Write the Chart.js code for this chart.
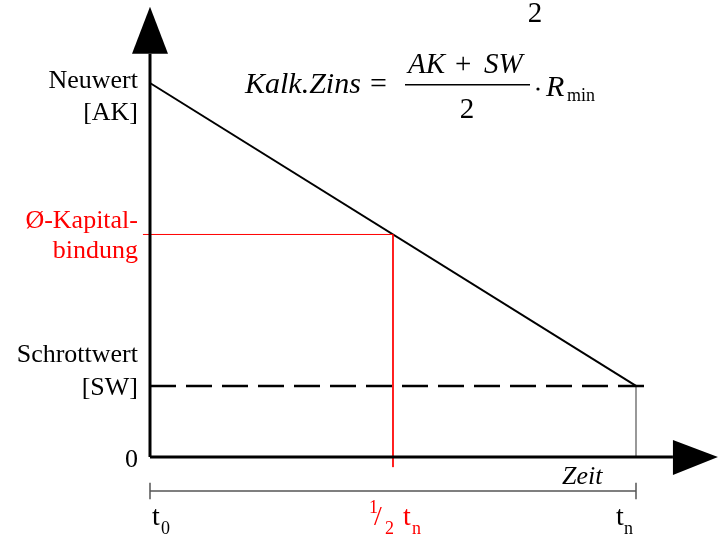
<!DOCTYPE html>
<html>
<head>
<meta charset="utf-8">
<script src="https://cdn.jsdelivr.net/npm/chart.js@4.4.1/dist/chart.umd.min.js"></script>
<style>
  body { margin: 0; background: #fff; }
  canvas { display: block; }
  #fontwarm { position: absolute; left: 0; top: 0; font-family: "Liberation Serif"; font-size: 10px; color: transparent; }
</style>
</head>
<body>
<div id="fontwarm">Neuwert <i>Zeit</i></div>
<canvas id="chart" width="720" height="536"></canvas>
<script>
// time axis: t0 .. tn (normalised to 0..1)
const timePoints = [0, 0.5, 1];
const timeLabels = ['t0', '1/2 tn', 'tn'];

// value axis: Neuwert, average capital, Schrottwert, zero
const valuePoints = [100, 59.5, 19, 0];
const valueLabels = [['Neuwert', '[AK]'], ['Ø-Kapital-', 'bindung'], ['Schrottwert', '[SW]'], ['0']];
const valueColors = ['#000', '#ff0000', '#000', '#000'];

// book value from t0 to tn
const bookValue = [100, 19];

// axis extents (data units)
const xAxisEnd = 1.076;
const yAxisEnd = 107.8;
const dashEnd = 1.029;
const measureY = -9.1;

const serif = '"Liberation Serif"';

function seg(x1, y1, x2, y2, color, width, dash) {
    return {
        data: [{x: x1, y: y1}, {x: x2, y: y2}],
        showLine: true,
        borderColor: color,
        borderWidth: width,
        borderDash: dash || [],
        pointRadius: 0,
        borderCapStyle: 'butt'
    };
}

const diagramPlugin = {
    id: 'diagram',
    afterDatasetsDraw(chart) {
        const ctx = chart.ctx;
        const xs = chart.scales.x, ys = chart.scales.y;
        const px = v => xs.getPixelForValue(v);
        const py = v => ys.getPixelForValue(v);
        ctx.save();

        // arrow heads
        ctx.fillStyle = '#000';
        const ax = px(0), ay = py(yAxisEnd);
        ctx.beginPath();
        ctx.moveTo(ax - 18, ay);
        ctx.lineTo(ax, ay - 47);
        ctx.lineTo(ax + 18, ay);
        ctx.closePath();
        ctx.fill();
        const bx = px(xAxisEnd), by = py(0);
        ctx.beginPath();
        ctx.moveTo(bx, by - 17);
        ctx.lineTo(bx + 45, by);
        ctx.lineTo(bx, by + 18);
        ctx.closePath();
        ctx.fill();

        // value labels (right aligned left of the axis)
        const offsets = [[5, 37], [-6, 24], [-24, 9], [10]];
        ctx.textAlign = 'right';
        ctx.textBaseline = 'alphabetic';
        ctx.font = '26px ' + serif;
        valueLabels.forEach((lines, i) => {
            ctx.fillStyle = valueColors[i];
            lines.forEach((txt, j) => {
                ctx.fillText(txt, px(0) - 12, py(valuePoints[i]) + offsets[i][j]);
            });
        });

        // time labels with subscripts
        ctx.textAlign = 'left';
        const tBase = 525;
        ctx.fillStyle = '#000';
        ctx.font = '28px ' + serif;
        ctx.fillText('t', px(timePoints[0]) + 2, tBase);
        ctx.font = '18px ' + serif;
        ctx.fillText('0', px(timePoints[0]) + 11, tBase + 9);

        ctx.font = '28px ' + serif;
        ctx.fillText('t', px(timePoints[2]) - 20, tBase);
        ctx.font = '18px ' + serif;
        ctx.fillText('n', px(timePoints[2]) - 12, tBase + 9);

        ctx.fillStyle = '#ff0000';
        const hx = px(timePoints[1]);
        ctx.font = '18px ' + serif;
        ctx.fillText('1', hx - 24, tBase - 12);
        ctx.font = '28px ' + serif;
        ctx.fillText('/', hx - 19, tBase);
        ctx.font = '18px ' + serif;
        ctx.fillText('2', hx - 8, tBase + 9);
        ctx.font = '28px ' + serif;
        ctx.fillText('t', hx + 10, tBase);
        ctx.font = '18px ' + serif;
        ctx.fillText('n', hx + 19, tBase + 9);

        // axis title
        ctx.fillStyle = '#000';
        ctx.font = 'italic 26px ' + serif;
        ctx.fillText('Zeit', 562, 484);

        // formula
        const fb = 93;
        ctx.font = 'italic 30px ' + serif;
        ctx.fillText('Kalk.Zins', 245, fb);
        ctx.font = '30px ' + serif;
        ctx.fillText('=', 370, fb);
        ctx.font = 'italic 29px ' + serif;
        ctx.fillText('AK', 408, 73);
        ctx.fillText('SW', 484, 73);
        ctx.font = '29px ' + serif;
        ctx.fillText('+', 455, 73);
        ctx.textAlign = 'center';
        ctx.fillText('2', 467, 118);
        ctx.fillText('2', 535, 22);
        ctx.fillRect(405, 84, 125, 1.5);
        ctx.beginPath();
        ctx.arc(538, 89, 1.6, 0, Math.PI * 2);
        ctx.fill();
        ctx.textAlign = 'left';
        ctx.font = 'italic 30px ' + serif;
        ctx.fillText('R', 546, fb + 3);
        ctx.font = '18px ' + serif;
        ctx.fillText('min', 567, fb + 8);

        ctx.restore();
    }
};

function draw() {
    new Chart(document.getElementById('chart'), {
        type: 'scatter',
        data: {
            datasets: [
                // axes
                seg(0, 0, 0, yAxisEnd, '#000', 3),
                seg(0, 0, xAxisEnd, 0, '#000', 3),
                // scrap value (dashed)
                seg(0, bookValue[1], dashEnd, bookValue[1], '#000', 2.5, [26, 10]),
                // average capital commitment
                seg(-0.0145, valuePoints[1], timePoints[1], valuePoints[1], '#ff0000', 1),
                seg(timePoints[1], valuePoints[1], timePoints[1], -2.7, '#ff0000', 1),
                // tn drop line
                seg(timePoints[2], bookValue[1], timePoints[2], 0, '#777', 1.5),
                // measuring line t0..tn
                seg(timePoints[0], measureY, timePoints[2], measureY, '#555', 1.5),
                seg(timePoints[0], measureY + 2.2, timePoints[0], measureY - 2.2, '#555', 1.5),
                seg(timePoints[2], measureY + 2.2, timePoints[2], measureY - 2.2, '#555', 1.5),
                // book value line
                seg(timePoints[0], bookValue[0], timePoints[2], bookValue[1], '#000', 2)
            ]
        },
        options: {
            responsive: false,
            animation: false,
            layout: { padding: 0 },
            plugins: {
                legend: { display: false },
                tooltip: { enabled: false }
            },
            scales: {
                x: { type: 'linear', display: false, min: -0.30864, max: 1.17284 },
                y: { type: 'linear', display: false, min: -21.123, max: 122.193 }
            }
        },
        plugins: [diagramPlugin]
    });
}

document.getElementById('fontwarm').offsetWidth;
document.fonts.ready.then(draw);
</script>
</body>
</html>
